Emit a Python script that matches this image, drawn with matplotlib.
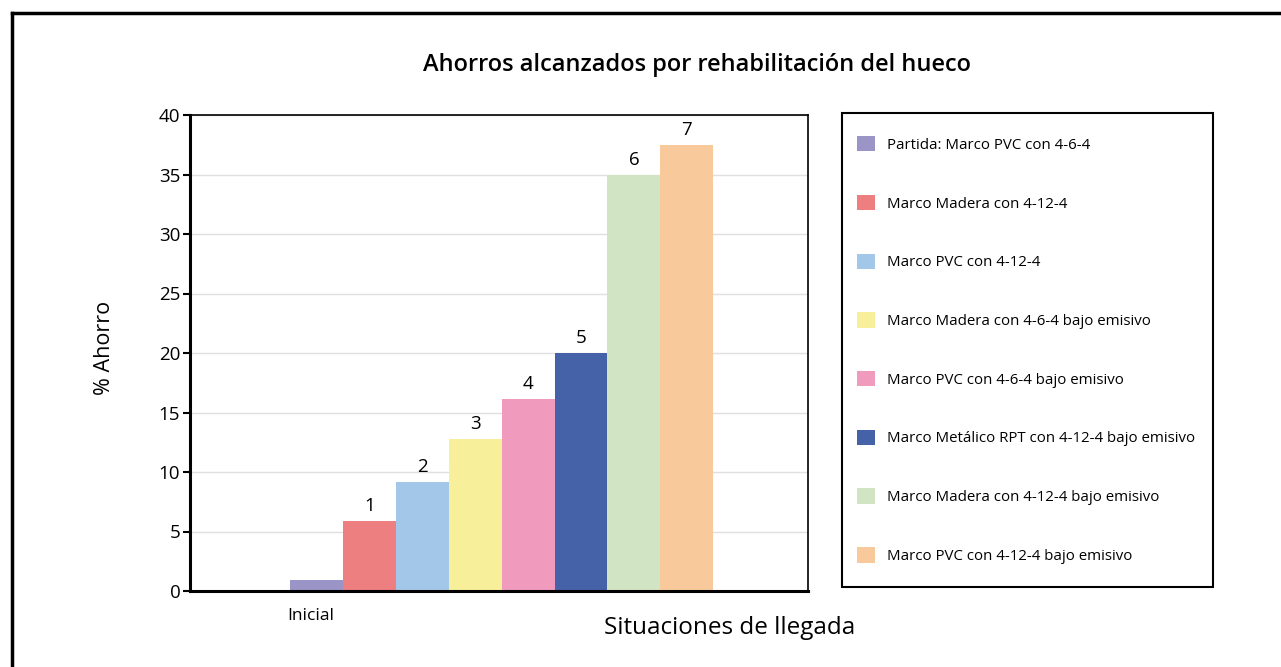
import matplotlib.pyplot as plt
from matplotlib.patches import Patch, Rectangle
from matplotlib.lines import Line2D

etiquetas = ['Partida: Marco PVC con 4-6-4', 'Marco Madera con 4-12-4', 'Marco PVC con 4-12-4',
             'Marco Madera con 4-6-4 bajo emisivo', 'Marco PVC con 4-6-4 bajo emisivo',
             'Marco Metálico RPT con 4-12-4 bajo emisivo', 'Marco Madera con 4-12-4 bajo emisivo',
             'Marco PVC con 4-12-4 bajo emisivo']
ahorro = [0.9, 5.9, 9.2, 12.8, 16.1, 20.0, 35.0, 37.5]
numeros = ['', '1', '2', '3', '4', '5', '6', '7']
colores = ['#9a95c6', '#ee7f80', '#a2c7e8', '#f8ef9b', '#f09bbe', '#4561a7', '#d1e5c4', '#f8c99a']

plt.rcParams['font.family'] = ['Open Sans', 'DejaVu Sans']

fig = plt.figure(figsize=(12.81, 6.67), dpi=100)
W, H = 1281, 667
ax = fig.add_axes([190 / W, 1 - 591 / H, 618 / W, 476 / H])

pos = list(range(len(ahorro)))
ax.bar(pos, ahorro, width=1.0, color=colores, zorder=2)
for p, v, n in zip(pos, ahorro, numeros):
    if n:
        ax.text(p, v + 0.5, n, ha='center', va='bottom', fontsize=13.5)

ax.set_xlim(-2.39, 9.29)
ax.set_ylim(0, 40)
ax.set_yticks(range(0, 41, 5))
ax.set_xticks([-0.1])
ax.set_xticklabels(['Inicial'], fontsize=12.5)
ax.tick_params(axis='x', length=0, pad=12)
ax.tick_params(axis='y', labelsize=13.5, length=5, width=1.5, pad=2)
ax.yaxis.grid(True, color='#e0e0e0', linewidth=1, zorder=0)
ax.set_axisbelow(True)
for s in ['left', 'bottom']:
    ax.spines[s].set_linewidth(2.2)
for s in ['top', 'right']:
    ax.spines[s].set_linewidth(1.2)

fig.text(697 / W, 1 - 65 / H, 'Ahorros alcanzados por rehabilitación del hueco',
         ha='center', va='center', fontsize=17, weight='semibold')
fig.text(105 / W, 1 - 348 / H, '% Ahorro', rotation=90, ha='center', va='center', fontsize=15.5)
fig.text(730 / W, 1 - 628 / H, 'Situaciones de llegada', ha='center', va='center', fontsize=17.5)

# caja de la leyenda dibujada aparte
caja = (842 / W, 1 - 587 / H, 371 / W, 474 / H)
fig.add_artist(Rectangle(caja[:2], caja[2], caja[3], transform=fig.transFigure,
                         fill=False, edgecolor='black', linewidth=1.5))
handles = [Patch(facecolor=c, edgecolor='none') for c in colores]
ax.legend(handles, etiquetas, loc='center left', bbox_to_anchor=caja,
          bbox_transform=fig.transFigure, frameon=False, prop={'size': 10.8},
          handlelength=1.2, handleheight=1.2, handletextpad=0.8, labelspacing=2.8,
          borderpad=1.0, borderaxespad=0)

fig.add_artist(Line2D([12 / W, 1], [1 - 13 / H, 1 - 13 / H], color='black', linewidth=2.5))
fig.add_artist(Line2D([12 / W, 12 / W], [0, 1 - 13 / H], color='black', linewidth=2.5))

fig.savefig('out.png', dpi=100)
